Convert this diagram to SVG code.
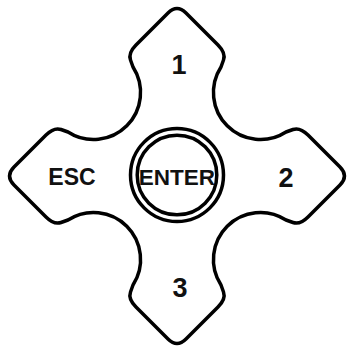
<svg xmlns="http://www.w3.org/2000/svg" width="348" height="354" viewBox="0 0 348 354">
<style>
.ol{fill:#fff;stroke:#000;stroke-width:3.5;stroke-linejoin:round}
.ring{fill:none;stroke:#000;stroke-width:3.5}
.t{font-family:"Liberation Sans",Arial,sans-serif;font-weight:bold;fill:#111;text-anchor:middle}
</style>
<rect width="348" height="354" fill="#fff"/>
<g id="pad">
<path class="ol" transform="translate(177,176)" d="M9,-163 L41,-131 Q49,-123 46.5,-116 L44,-109 A47,47 0 0 0 109,-44 L116,-46.5 Q123,-49 131,-41 L163,-9 Q172,0 163,9 L131,41 Q123,49 116,46.5 L109,44 A47,47 0 0 0 44,109 L46.5,116 Q49,123 41,131 L9,163 Q0,172 -9,163 L-41,131 Q-49,123 -46.5,116 L-44,109 A47,47 0 0 0 -109,44 L-116,46.5 Q-123,49 -131,41 L-163,9 Q-172,0 -163,-9 L-131,-41 Q-123,-49 -116,-46.5 L-109,-44 A47,47 0 0 0 -44,-109 L-46.5,-116 Q-49,-123 -41,-131 L-9,-163 Q0,-172 9,-163 Z"/>
</g>
<g id="key1"><text class="t" x="179" y="74" font-size="27">1</text></g>
<g id="key2"><text class="t" x="286" y="187" font-size="27">2</text></g>
<g id="key3"><text class="t" x="180" y="297" font-size="27">3</text></g>
<g id="esc"><text class="t" x="72" y="185" font-size="23">ESC</text></g>
<g id="enter">
<circle class="ring" cx="177" cy="175" r="46.5"/>
<circle class="ring" cx="177" cy="175" r="39.8"/>
<text class="t" x="177" y="185" font-size="22.5">ENTER</text>
</g>
</svg>
